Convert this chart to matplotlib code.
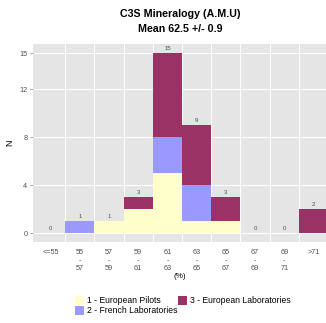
import matplotlib
matplotlib.use("Agg")
import matplotlib.pyplot as plt
from matplotlib.patches import Rectangle
import numpy as np

# Binned C3S mineralogy results, counts per laboratory group
categories = ["<=55", "55\n-\n57", "57\n-\n59", "59\n-\n61", "61\n-\n63",
              "63\n-\n65", "65\n-\n67", "67\n-\n69", "69\n-\n71", ">71"]
pilots = [0, 0, 1, 2, 5, 1, 1, 0, 0, 0]
french = [0, 1, 0, 0, 3, 3, 0, 0, 0, 0]
labs = [0, 0, 0, 1, 7, 5, 2, 0, 0, 2]
y_ticks = [0, 4, 8, 12, 15]

group_names = ["1 - European Pilots", "2 - French Laboratories", "3 - European Laboratories"]
group_colors = ["#FFFFCC", "#9999FF", "#993366"]

plt.rcParams["font.family"] = ["Liberation Sans", "DejaVu Sans"]

W, H = 326, 323
fig = plt.figure(figsize=(W / 100, H / 100), dpi=100)
fig.patch.set_facecolor("white")

# panel in pixel coordinates (extends past the right edge of the canvas)
px_l, px_r, px_t, px_b = 33, 331, 44, 242
ax = fig.add_axes([px_l / W, 1 - px_b / H, (px_r - px_l) / W, (px_b - px_t) / H])
ax.set_facecolor("#E5E5E5")

x = np.arange(len(categories))
series = [pilots, french, labs]
bottom = np.zeros(len(categories))
for vals, col in zip(series, group_colors):
    v = np.array(vals, dtype=float)
    ax.bar(x, v, width=1.0, bottom=bottom, color=col, edgecolor="none", zorder=2)
    bottom += v

totals = bottom
for xi, t in zip(x, totals):
    ax.text(xi, t + 0.2, f"{int(t)}", ha="center", va="bottom", fontsize=4.3,
            color="#4D4D4D", zorder=3)

ax.set_xlim(-0.6, len(categories) - 0.4)
ax.set_ylim(-0.75, 15.75)

# grid: horizontal at y ticks, vertical at bin boundaries
for yv in y_ticks:
    ax.axhline(yv, color="white", lw=0.7, zorder=1)
for xv in np.arange(0.5, len(categories) - 1, 1.0):
    ax.axvline(xv, color="white", lw=0.7, zorder=1)

ax.set_yticks(y_ticks)
ax.set_yticklabels([str(v) for v in y_ticks])
ax.set_xticks(x)
ax.set_xticklabels(categories, linespacing=1.25)
ax.tick_params(axis="both", labelsize=5.2, colors="#7F7F7F", labelcolor="#4D4D4D",
               length=2, width=0.5, pad=2)
ax.tick_params(axis="x", length=0, pad=5)
for s in ax.spines.values():
    s.set_visible(False)

ax.set_ylabel("N", fontsize=6.5, labelpad=4, color="black")

fig.text(180.5 / W, 1 - 14 / H, "C3S Mineralogy (A.M.U)", ha="center", va="center",
         fontsize=7.7, fontweight="bold")
fig.text(180.5 / W, 1 - 28.5 / H, "Mean 62.5 +/- 0.9", ha="center", va="center",
         fontsize=7.7, fontweight="bold")
fig.text(180 / W, 1 - 277 / H, "(%)", ha="center", va="center", fontsize=5.8,
         color="black")

# legend drawn in pixel coordinates, two columns
key = 9
legend_items = [(75, 296, 0), (75, 306, 1), (178, 296, 2)]
for lx, ly, i in legend_items:
    fig.patches.append(Rectangle((lx / W, 1 - (ly + key) / H), key / W, key / H,
                                 transform=fig.transFigure, facecolor=group_colors[i],
                                 edgecolor="none"))
    fig.text((lx + key + 3) / W, 1 - (ly + key / 2) / H, group_names[i],
             ha="left", va="center", fontsize=6.2, color="black")

fig.savefig("out.png", dpi=100)
